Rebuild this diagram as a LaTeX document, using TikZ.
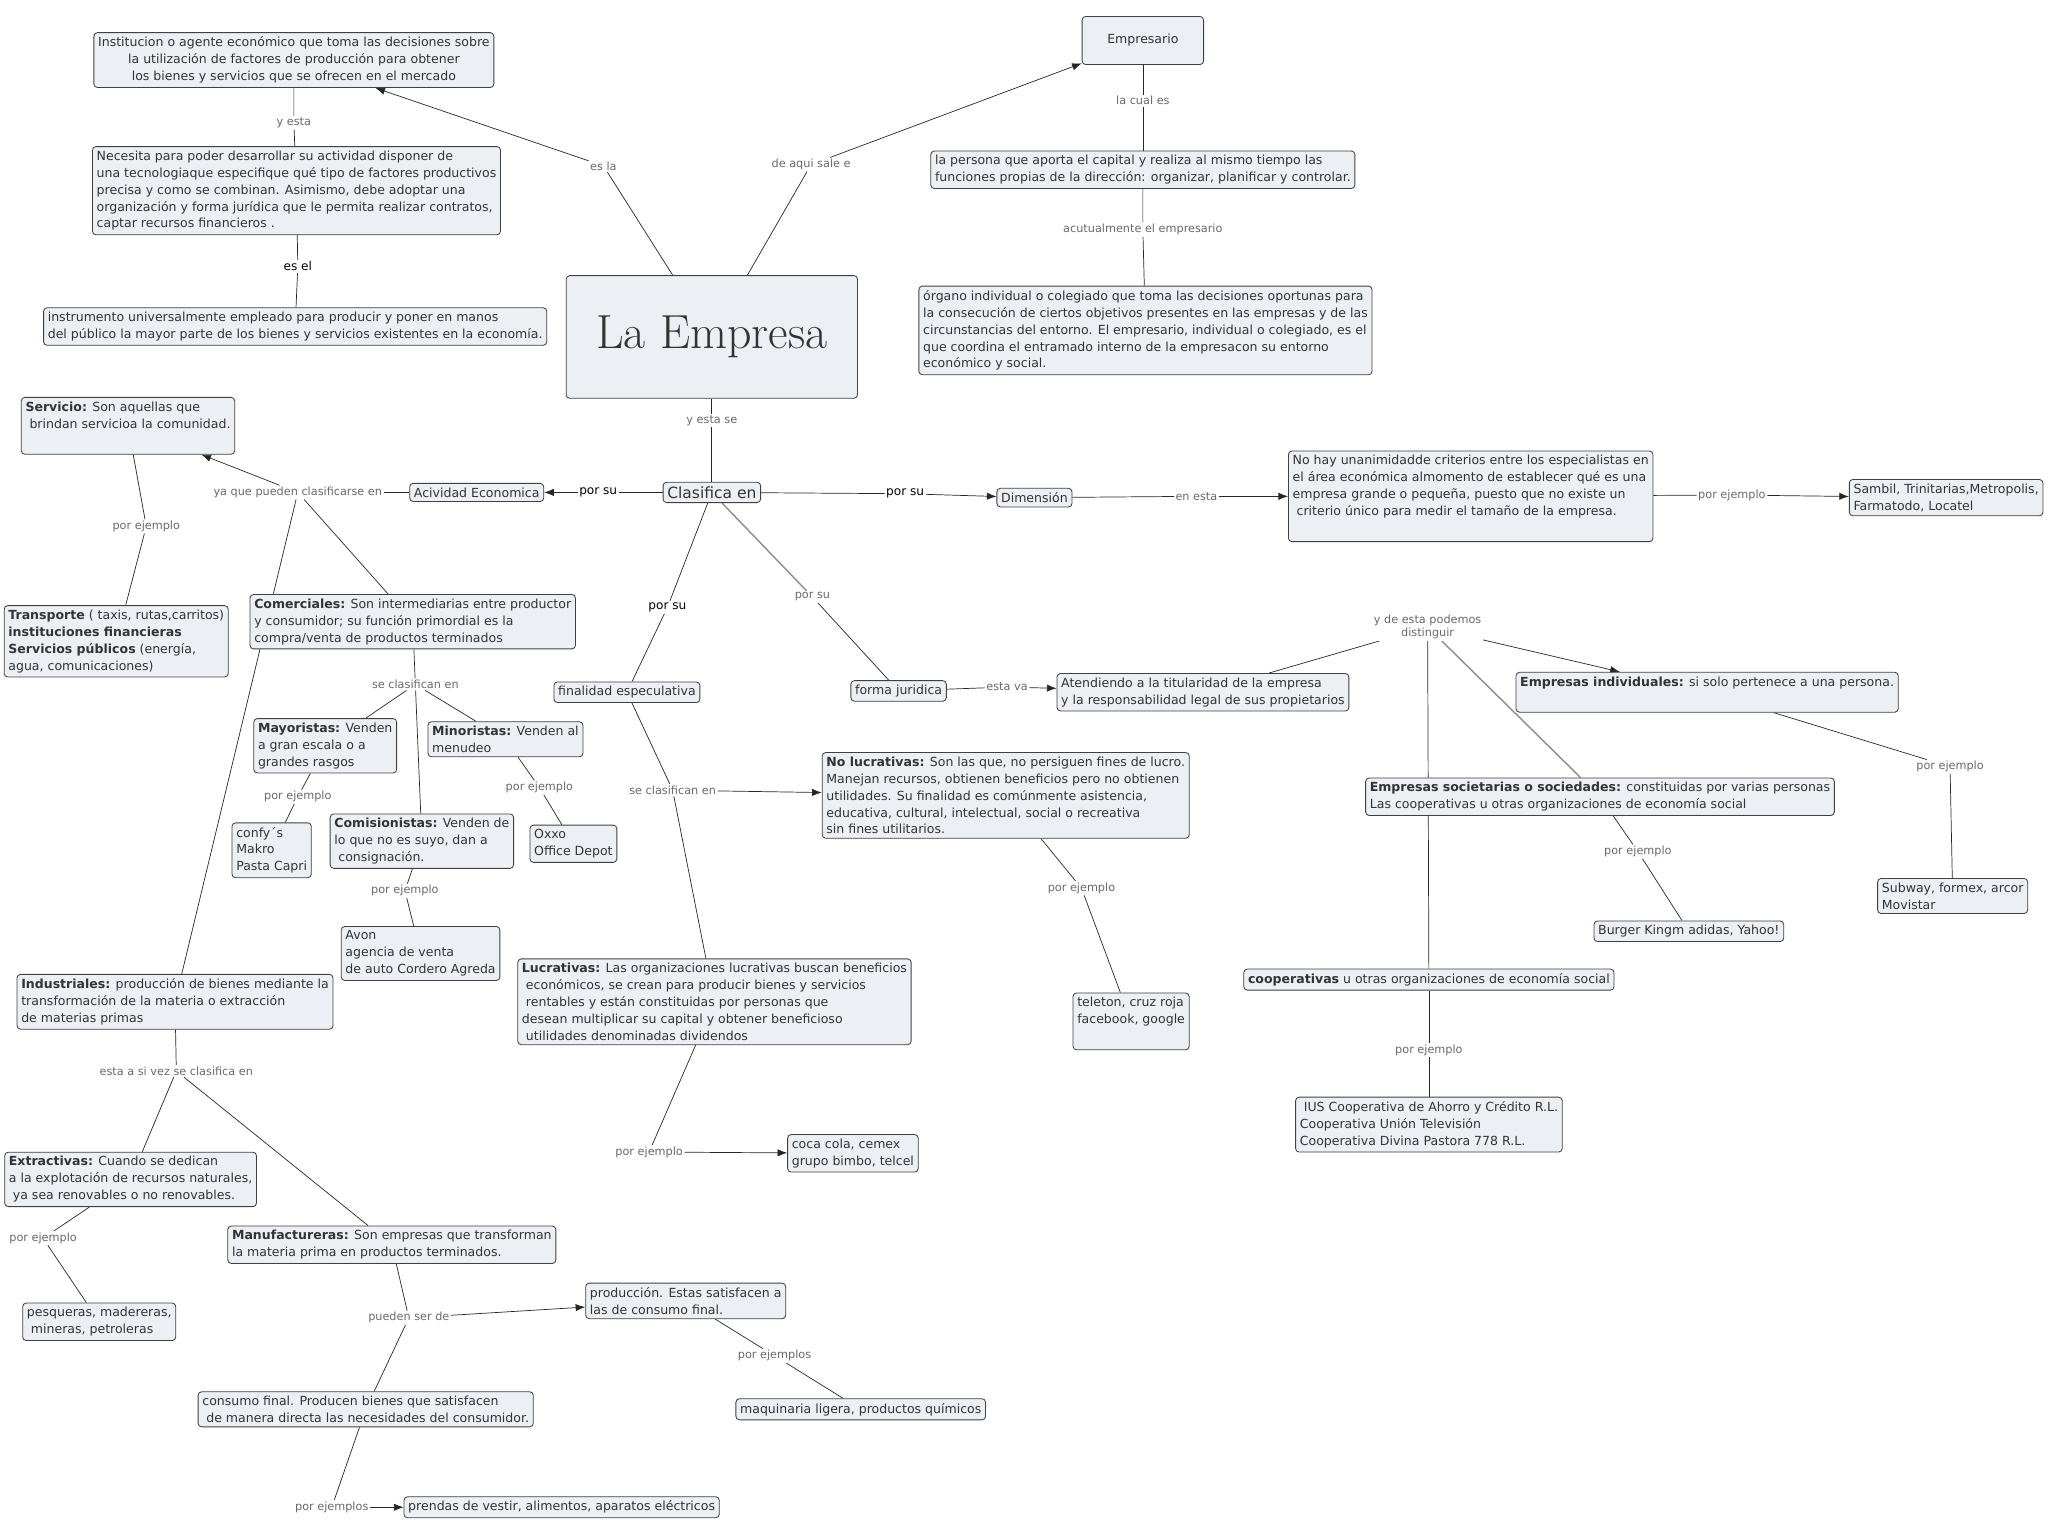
\documentclass[tikz,border=0pt]{standalone}
\usepackage{fontspec}
\newfontfamily\vfont{DejaVu Sans}
\usetikzlibrary{arrows.meta,backgrounds}
\definecolor{boxfill}{RGB}{236,240,245}
\definecolor{lnkgray}{RGB}{105,105,105}
\tikzset{
  cpt/.style  ={draw=black!75, fill=boxfill, rounded corners=2.5pt, line width=0.6pt,
                align=left, font=\vfont\fontsize{8.9}{12}\selectfont, text=black!80,
                inner xsep=3pt, inner ysep=3pt},
  lnk/.style  ={fill=white, inner sep=1pt, align=center, text=lnkgray,
                font=\vfont\fontsize{8}{9.6}\selectfont},
  lnkb/.style ={lnk, text=black, font=\vfont\fontsize{8.6}{10}\selectfont},
  con/.style  ={draw=black!85, line width=0.5pt},
  gcon/.style ={draw=black!45, line width=1pt},
  arr/.style  ={con, -{Latex[length=2.4mm,width=1.8mm]}},
}

\begin{document}
\begin{tikzpicture}[x=0.0326cm, y=-0.0326cm]
\useasboundingbox (0,0) rectangle (1568,1179);

% ---- centre and top ---------------------------------------------------
\node[cpt, minimum width=7.27cm, minimum height=3.06cm, font=\rmfamily\fontsize{34}{40}\selectfont]
  (empresa) at (545,258) {La Empresa};
\node[cpt, align=center] (def) at (225,46)
  {Institucion o agente económico que toma las decisiones sobre\\
   la utilización de factores de producción para obtener\\
   los bienes y servicios que se ofrecen en el mercado};
\node[cpt] (necesita) at (227,146)
  {Necesita para poder desarrollar su actividad disponer de\\
   una tecnologiaque especifique qué tipo de factores productivos\\
   precisa y como se combinan. Asimismo, debe adoptar una\\
   organización y forma jurídica que le permita realizar contratos,\\
   captar recursos financieros .};
\node[cpt] (instrumento) at (226,250)
  {instrumento universalmente empleado para producir y poner en manos\\
   del público la mayor parte de los bienes y servicios existentes en la economía.};
\node[cpt, align=center, minimum width=3.03cm, minimum height=1.2cm] (empresario) at (875,31) {Empresario};
\node[cpt] (persona) at (875,130)
  {la persona que aporta el capital y realiza al mismo tiempo las\\
   funciones propias de la dirección: organizar, planificar y controlar.};
\node[cpt] (organo) at (877,253)
  {órgano individual o colegiado que toma las decisiones oportunas para\\
   la consecución de ciertos objetivos presentes en las empresas y de las\\
   circunstancias del entorno. El empresario, individual o colegiado, es el\\
   que coordina el entramado interno de la empresacon su entorno\\
   económico y social.};

\node[lnk]  (lYesta)  at (225,94)  {y esta};
\node[lnkb] (lEsEl)   at (228,204) {es el};
\node[lnk]  (lEsLa)   at (462,127) {es la};
\node[lnk]  (lSale)   at (621,126) {de aqui sale e};
\node[lnk]  (lCual)   at (875,77)  {la cual es};
\node[lnk]  (lActual) at (875,176) {acutualmente el empresario};
\node[lnk]  (lSe)     at (545,322) {y esta se};

% ---- clasifica en ------------------------------------------------------
\node[cpt, font=\vfont\fontsize{11}{13}\selectfont] (clasifica) at (545,377) {Clasifica en};
\node[cpt] (acteco) at (365,377) {Acividad Economica};
\node[cpt] (dimension) at (792,381) {Dimensión};
\node[cpt] (nohay) at (1126,380)
  {No hay unanimidadde criterios entre los especialistas en\\
   el área económica almomento de establecer qué es una\\
   empresa grande o pequeña, puesto que no existe un\\
   \ criterio único para medir el tamaño de la empresa.\\ \strut};
\node[cpt] (sambil) at (1490,381) {Sambil, Trinitarias,Metropolis,\\ Farmatodo, Locatel};
\node[cpt] (finalidad) at (480,530) {finalidad especulativa};
\node[cpt] (forma) at (688,529) {forma juridica};

\node[lnkb] (lPorAct) at (458,377) {por su};
\node[lnkb] (lPorDim) at (693,378) {por su};
\node[lnk]  (lEnEsta) at (916,380) {en esta};
\node[lnk]  (lEjSam)  at (1326,379) {por ejemplo};
\node[lnkb] (lPorFin) at (511,465) {por su};
\node[lnk]  (lPorFor) at (622,457) {por su};

% ---- actividad economica ----------------------------------------------
\node[cpt] (servicio) at (98,326)
  {\textbf{Servicio:} Son aquellas que\\ \ brindan servicioa la comunidad.\\ \strut};
\node[cpt] (transporte) at (89,491)
  {\textbf{Transporte} ( taxis, rutas,carritos)\\
   \textbf{instituciones financieras}\\
   \textbf{Servicios públicos} (energía,\\
   agua, comunicaciones)};
\node[cpt] (comerciales) at (316,476)
  {\textbf{Comerciales:} Son intermediarias entre productor\\
   y consumidor; su función primordial es la\\
   compra/venta de productos terminados};
\node[cpt] (mayoristas) at (249,571) {\textbf{Mayoristas:} Venden\\ a gran escala o a\\ grandes rasgos};
\node[cpt] (minoristas) at (387,566) {\textbf{Minoristas:} Venden al\\ menudeo};
\node[cpt] (confys) at (208,651) {confy´s\\ Makro\\ Pasta Capri};
\node[cpt] (comisionistas) at (323,644) {\textbf{Comisionistas:} Venden de\\ lo que no es suyo, dan a\\ \ consignación.};
\node[cpt] (oxxo) at (439,646) {Oxxo\\ Office Depot};
\node[cpt] (avon) at (322,730) {Avon\\ agencia de venta\\ de auto Cordero Agreda};
\node[cpt] (industriales) at (134,767)
  {\textbf{Industriales:} producción de bienes mediante la\\
   transformación de la materia o extracción\\
   de materias primas};
\node[cpt] (extractivas) at (100,903)
  {\textbf{Extractivas:} Cuando se dedican\\
   a la explotación de recursos naturales,\\
   \ ya sea renovables o no renovables.};
\node[cpt] (pesqueras) at (76,1012) {pesqueras, madereras,\\ \ mineras, petroleras};
\node[cpt] (manufactureras) at (300,953)
  {\textbf{Manufactureras:} Son empresas que transforman\\
   la materia prima en productos terminados.};
\node[cpt] (produccion) at (525,996) {producción. Estas satisfacen a\\ las de consumo final.};
\node[cpt] (maquinaria) at (659,1079) {maquinaria ligera, productos químicos};
\node[cpt] (consumo) at (280,1079)
  {consumo final. Producen bienes que satisfacen\\
   \ de manera directa las necesidades del consumidor.};
\node[cpt] (prendas) at (430,1154) {prendas de vestir, alimentos, aparatos eléctricos};

\node[lnk] (lYaQue)  at (228,377) {ya que pueden clasificarse en};
\node[lnk] (lEjTra)  at (112,403) {por ejemplo};
\node[lnk] (lClaCom) at (318,524) {se clasifican en};
\node[lnk] (lEjMay)  at (228,610) {por ejemplo};
\node[lnk] (lEjMin)  at (413,603) {por ejemplo};
\node[lnk] (lEjCom)  at (310,682) {por ejemplo};
\node[lnk] (lClaInd) at (135,820) {esta a si vez se clasifica en};
\node[lnk] (lEjExt)  at (33,948)  {por ejemplo};
\node[lnk] (lPueden) at (313,1009) {pueden ser de};
\node[lnk] (lEjPro)  at (593,1038) {por ejemplos};
\node[lnk] (lEjCon)  at (254,1154) {por ejemplos};

% ---- finalidad especulativa -------------------------------------------
\node[cpt] (nolucr) at (770,609)
  {\textbf{No lucrativas:} Son las que, no persiguen fines de lucro.\\
   Manejan recursos, obtienen beneficios pero no obtienen\\
   utilidades. Su finalidad es comúnmente asistencia,\\
   educativa, cultural, intelectual, social o recreativa\\
   sin fines utilitarios.};
\node[cpt] (teleton) at (866,782) {teleton, cruz roja\\ facebook, google\\ \strut};
\node[cpt] (lucrativas) at (547,767)
  {\textbf{Lucrativas:} Las organizaciones lucrativas buscan beneficios\\
   \ económicos, se crean para producir bienes y servicios\\
   \ rentables y están constituidas por personas que\\
   desean multiplicar su capital y obtener beneficioso\\
   \ utilidades denominadas dividendos};
\node[cpt] (cocacola) at (653,883) {coca cola, cemex\\ grupo bimbo, telcel};

\node[lnk] (lClaFin) at (515,605) {se clasifican en};
\node[lnk] (lEjNoL)  at (828,680) {por ejemplo};
\node[lnk] (lEjLuc)  at (497,882) {por ejemplo};

% ---- forma juridica ----------------------------------------------------
\node[cpt] (atendiendo) at (921,530)
  {Atendiendo a la titularidad de la empresa\\ y la responsabilidad legal de sus propietarios};
\node[cpt] (empind) at (1307,530)
  {\textbf{Empresas individuales:} si solo pertenece a una persona.\\ \strut};
\node[cpt] (empsoc) at (1225,610)
  {\textbf{Empresas societarias o sociedades:} constituidas por varias personas\\
   Las cooperativas u otras organizaciones de economía social};
\node[cpt] (burger) at (1293,713) {Burger Kingm adidas, Yahoo!};
\node[cpt] (subway) at (1495,686) {Subway, formex, arcor\\ Movistar};
\node[cpt] (cooperativas) at (1094,750) {\textbf{cooperativas} u otras organizaciones de economía social};
\node[cpt] (ius) at (1094,861)
  {\ IUS Cooperativa de Ahorro y Crédito R.L.\\
   Cooperativa Unión Televisión\\
   Cooperativa Divina Pastora 778 R.L.};

\node[lnk] (lVa)    at (771,526)  {esta va};
\node[lnk] (lDist)  at (1093,480) {y de esta podemos\\ distinguir};
\node[lnk] (lEjSoc) at (1254,652) {por ejemplo};
\node[lnk] (lEjInd) at (1493,587) {por ejemplo};
\node[lnk] (lEjCoo) at (1094,804) {por ejemplo};

% ---- connectors --------------------------------------------------------
\begin{scope}[on background layer]
\draw[con] (def) -- (lYesta) -- (necesita);
\draw[con] (necesita) -- (lEsEl) -- (instrumento);
\draw[con] (empresa) -- (lEsLa);
\draw[arr] (lEsLa) -- (def);
\draw[con] (empresa) -- (lSale);
\draw[arr] (lSale) -- (empresario);
\draw[con] (empresario) -- (lCual) -- (persona);
\draw[con] (persona) -- (lActual) -- (organo);
\draw[con] (empresa) -- (lSe) -- (clasifica);

\draw[con] (clasifica) -- (lPorAct);
\draw[arr] (lPorAct) -- (acteco);
\draw[con] (acteco) -- (lYaQue);
\draw[arr] (lYaQue) -- (servicio);
\draw[con] (lYaQue) -- (comerciales);
\draw[con] (lYaQue) -- (industriales);
\draw[con] (servicio) -- (lEjTra) -- (transporte);
\draw[con] (clasifica) -- (lPorDim);
\draw[arr] (lPorDim) -- (dimension);
\draw[con] (dimension) -- (lEnEsta);
\draw[arr] (lEnEsta) -- (nohay);
\draw[con] (nohay) -- (lEjSam);
\draw[arr] (lEjSam) -- (sambil);
\draw[con] (clasifica) -- (lPorFin) -- (finalidad);
\draw[gcon] (clasifica) -- (lPorFor);
\draw[con] (lPorFor) -- (forma);

\draw[con] (comerciales) -- (lClaCom);
\draw[con] (lClaCom) -- (mayoristas);
\draw[con] (lClaCom) -- (comisionistas);
\draw[con] (lClaCom) -- (minoristas);
\draw[con] (mayoristas) -- (lEjMay) -- (confys);
\draw[con] (minoristas) -- (lEjMin) -- (oxxo);
\draw[con] (comisionistas) -- (lEjCom) -- (avon);
\draw[con] (industriales) -- (lClaInd);
\draw[con] (lClaInd) -- (extractivas);
\draw[con] (lClaInd) -- (manufactureras);
\draw[con] (extractivas) -- (lEjExt) -- (pesqueras);
\draw[con] (manufactureras) -- (lPueden);
\draw[arr] (lPueden) -- (produccion);
\draw[con] (lPueden) -- (consumo);
\draw[con] (produccion) -- (lEjPro) -- (maquinaria);
\draw[con] (consumo) -- (lEjCon);
\draw[arr] (lEjCon) -- (prendas);

\draw[con] (finalidad) -- (lClaFin);
\draw[arr] (lClaFin) -- (nolucr);
\draw[con] (lClaFin) -- (lucrativas);
\draw[con] (nolucr) -- (lEjNoL) -- (teleton);
\draw[con] (lucrativas) -- (lEjLuc);
\draw[arr] (lEjLuc) -- (cocacola);

\draw[con] (forma) -- (lVa);
\draw[arr] (lVa) -- (atendiendo);
\draw[con] (atendiendo) -- (lDist);
\draw[arr] (lDist) -- (empind);
\draw[gcon] (lDist) -- (empsoc);
\draw[con] (lDist) -- (cooperativas);
\draw[con] (empsoc) -- (lEjSoc) -- (burger);
\draw[con] (empind) -- (lEjInd) -- (subway);
\draw[con] (cooperativas) -- (lEjCoo) -- (ius);
\end{scope}

\end{tikzpicture}
\end{document}
